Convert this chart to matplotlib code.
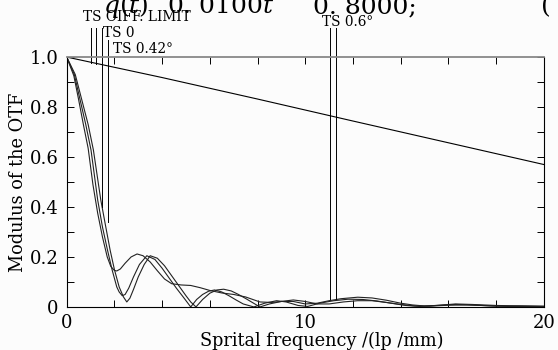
import matplotlib.pyplot as plt
from matplotlib.ticker import MultipleLocator, FixedLocator, FuncFormatter

plt.rcParams['font.family'] = ['DejaVu Serif']
plt.rcParams['mathtext.fontset'] = 'dejavuserif'

# 衍射极限
diff_x = [0, 4, 8, 12, 16, 20]
diff_y = [1.0, 0.918, 0.832, 0.744, 0.657, 0.57]

# 三条视场曲线
a_x = [0, 0.3, 0.5, 0.7, 0.9, 1.1, 1.3, 1.5, 1.7, 1.85, 2.0, 2.1, 2.25, 2.45,
       2.7, 2.95, 3.2, 3.5, 3.8, 4.1, 4.4, 4.8, 5.2, 5.6, 6.0, 6.5, 7.0, 7.5,
       8.1, 8.6, 9.0, 9.5, 10.0, 10.5, 11.0, 11.5, 12.2, 12.8, 13.4, 14.0,
       14.5, 15.0, 15.5, 16.3, 17.0, 18.0, 19.0, 20.0]
a_y = [1.0, 0.925, 0.83, 0.73, 0.635, 0.49, 0.375, 0.28, 0.2, 0.162, 0.146,
       0.144, 0.152, 0.175, 0.2, 0.212, 0.205, 0.18, 0.145, 0.112, 0.093,
       0.088, 0.086, 0.077, 0.066, 0.056, 0.05, 0.04, 0.02, 0.018, 0.022,
       0.022, 0.012, 0.015, 0.025, 0.033, 0.039, 0.036, 0.027, 0.015, 0.008,
       0.004, 0.006, 0.012, 0.01, 0.006, 0.004, 0.003]

b_x = [0, 0.32, 0.56, 0.8, 1.02, 1.3, 1.5, 1.71, 1.9, 2.1, 2.2, 2.33, 2.45,
       2.6, 2.8, 3.05, 3.36, 3.7, 4.0, 4.3, 4.6, 4.9, 5.2, 5.45, 5.7, 5.95,
       6.2, 6.5, 6.8, 7.1, 7.4, 7.85, 8.3, 8.8, 9.2, 9.7, 10.1, 10.6, 11.2,
       11.8, 12.4, 13.0, 13.6, 14.2, 14.8, 15.5, 16.3, 17.2, 18.0, 19.0, 20.0]
b_y = [1.0, 0.93, 0.83, 0.73, 0.628, 0.428, 0.32, 0.228, 0.15, 0.08, 0.06,
       0.045, 0.05, 0.075, 0.12, 0.17, 0.205, 0.19, 0.155, 0.115, 0.075,
       0.038, 0.0, 0.03, 0.05, 0.063, 0.068, 0.06, 0.045, 0.028, 0.012, 0.0,
       0.015, 0.025, 0.02, 0.006, 0.002, 0.015, 0.025, 0.031, 0.03, 0.024,
       0.015, 0.006, 0.002, 0.006, 0.01, 0.007, 0.003, 0.004, 0.002]

c_x = [0, 0.36, 0.63, 0.9, 1.12, 1.43, 1.62, 1.82, 2.0, 2.2, 2.38, 2.52, 2.65,
       2.8, 3.0, 3.25, 3.5, 3.8, 4.1, 4.4, 4.7, 5.0, 5.2, 5.42, 5.7, 6.0, 6.3,
       6.58, 6.9, 7.2, 7.5, 7.8, 8.1, 8.5, 9.0, 9.5, 10.0, 10.5, 11.0, 11.6,
       12.2, 12.8, 13.4, 14.0, 14.6, 15.2, 16.0, 16.8, 17.6, 18.5, 20.0]
c_y = [1.0, 0.93, 0.83, 0.73, 0.628, 0.428, 0.33, 0.228, 0.15, 0.08, 0.04,
       0.02, 0.035, 0.07, 0.12, 0.17, 0.205, 0.195, 0.165, 0.125, 0.085,
       0.045, 0.02, 0.0, 0.03, 0.055, 0.068, 0.071, 0.064, 0.05, 0.034,
       0.017, 0.0, 0.012, 0.022, 0.028, 0.022, 0.012, 0.012, 0.02, 0.025,
       0.025, 0.018, 0.01, 0.004, 0.003, 0.007, 0.008, 0.005, 0.002, 0.002]

# 标注: 文字, 文字位置, 引线
label_texts = ['TS OIFF. LIMIT', 'TS 0', 'TS 0.42°', 'TS 0.6°']
label_x = [0.7, 1.53, 1.95, 10.71]
label_y = [1.145, 1.081, 1.015, 1.124]
lead_x = [1.0, 1.24, 1.5, 1.75, 11.03, 11.28]
lead_top = [1.116, 1.116, 1.116, 1.068, 1.115, 1.115]
lead_bottom = [0.977, 0.973, 0.40, 0.34, 0.03, 0.03]

# 顶部被截断的公式片段 (只露出下半部分)
eq_parts = [r'$q(t)$', r'0. 0100$t$', '0. 8000;', '(']
eq_px = [103, 167, 313, 541]

fig = plt.figure(figsize=(5.58, 3.5), dpi=100, facecolor='#fcfcfc')
ax = fig.add_axes([0.1195, 0.123, 0.855, 0.714])
ax.set_facecolor('#fcfcfc')

lw = 0.8
ax.plot(diff_x, diff_y, color='black', linewidth=lw)
ax.plot(a_x, a_y, color='#222222', linewidth=lw)
ax.plot(b_x, b_y, color='#222222', linewidth=lw)
ax.plot(c_x, c_y, color='#222222', linewidth=lw)

for x0, y1, y0 in zip(lead_x, lead_top, lead_bottom):
    ax.plot([x0, x0], [y0, y1], color='black', linewidth=0.7, clip_on=False)
for t, x0, y0 in zip(label_texts, label_x, label_y):
    ax.text(x0, y0, t, fontsize=9.8, ha='left', va='baseline', clip_on=False)

ax.set_xlim(0, 20)
ax.set_ylim(0, 1.0)
ax.xaxis.set_major_locator(FixedLocator([0, 10, 20]))
ax.xaxis.set_minor_locator(MultipleLocator(2))
ax.yaxis.set_major_locator(MultipleLocator(0.2))
ax.yaxis.set_minor_locator(MultipleLocator(0.1))
ax.yaxis.set_major_formatter(FuncFormatter(lambda v, p: '0' if abs(v) < 1e-9 else f'{v:.1f}'))
ax.tick_params(which='both', direction='in', top=True, right=True,
               length=5, width=0.7, labelsize=13)
ax.tick_params(axis='x', pad=5)
ax.tick_params(axis='y', pad=6)
for s in ['left', 'right', 'bottom']:
    ax.spines[s].set_linewidth(0.8)
ax.spines['top'].set_color('#888888')
ax.spines['top'].set_linewidth(1.3)

ax.set_xlabel('Sprital frequency /(lp /mm)', fontsize=12.8, labelpad=0)
ax.xaxis.set_label_coords(0.535, -0.1)
ax.xaxis.label.set_va('top')
ax.set_ylabel('Modulus of the OTF', fontsize=12.8, labelpad=2)

for t, px in zip(eq_parts, eq_px):
    fig.text(px / 558, 1 - 13 / 350, t, fontsize=18, ha='left', va='baseline')

fig.savefig('out.png', dpi=100, facecolor=fig.get_facecolor())
